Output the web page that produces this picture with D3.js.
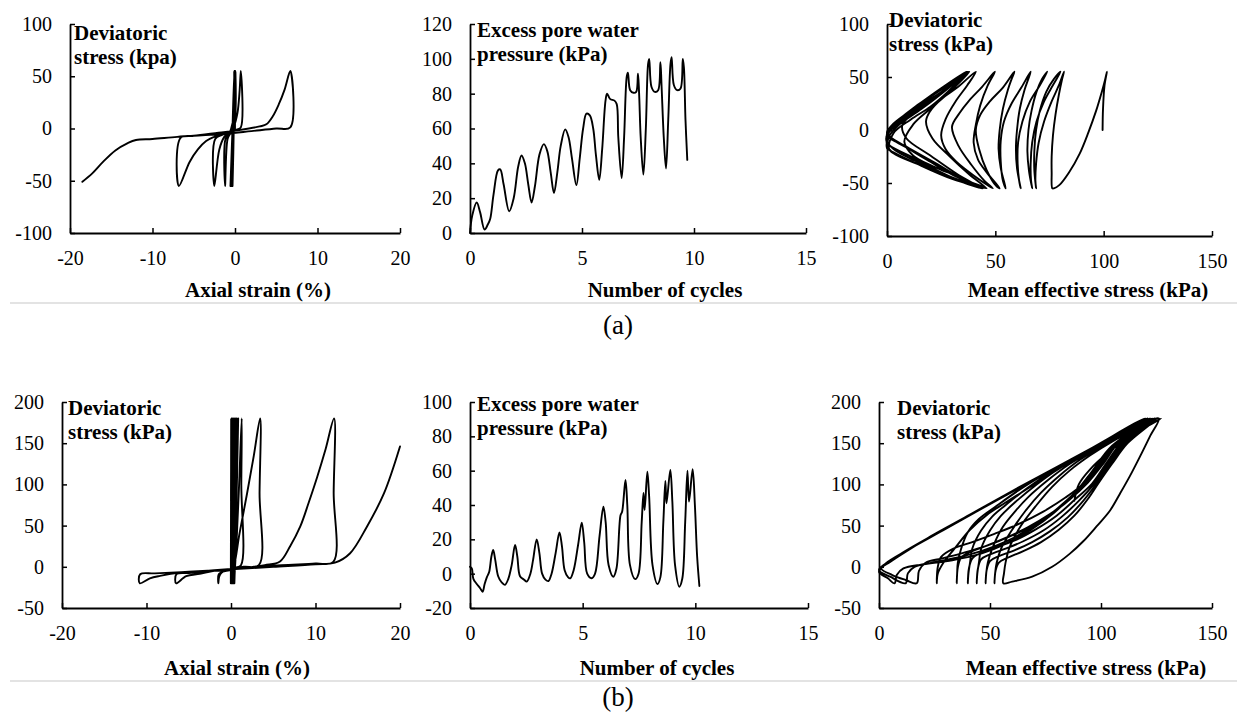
<!DOCTYPE html>
<html><head><meta charset="utf-8">
<script src="https://cdn.jsdelivr.net/npm/d3@7"></script>
<style>html,body{margin:0;padding:0;background:#fff;}svg{display:block;}</style>
</head><body>
<svg id="chart" width="1237" height="717"></svg>
<script>
// ---------------- DATA ----------------
// (a) panel 1: axial strain (%) vs deviatoric stress (kPa)
const strainStressA = [
[0,0],[-0.05,55],[-0.2,0],[-0.3,-55],[-0.15,0],[-0.1,55],[-0.3,0],[-0.45,-55],[-0.25,0],[-0.05,55],[-0.3,0],[-0.55,-55],[-0.3,0],[0.0,55],
[-0.3,0],[-0.6,-5],[-0.9,-10],[-1.2,-55],[-1.15,-10],[-0.7,-5],[-0.3,5],[-0.05,25],[0.05,55],
[-0.2,0],[-0.8,-4],[-1.3,-8],[-1.9,-20],[-2.5,-55],[-2.4,-10],[-1.5,-6],[-0.6,-3],[-0.1,3],[0.3,15],[0.55,35],[0.7,55],
[0.7,1],[0.2,-1],[-1.0,-4],[-2.5,-8],[-3.5,-12],[-4.5,-20],[-5.5,-32],[-6.8,-55],
[-6.6,-9],[-5.0,-7],[-2.0,-4],[0.5,-1.5],[3.0,2],[3.8,4],[4.6,12],[5.3,23],[6.0,37],[6.7,55],
[6.7,1],[5.0,0],[2.0,-2.5],[-1.0,-5],[-4.0,-6.5],[-7.0,-8],[-10.0,-10],[-12.0,-11],[-13.0,-14],[-14.5,-21],[-16.0,-32],[-17.3,-43],[-18.5,-51]
];
// (a) panel 2: number of cycles vs excess pore water pressure (kPa)
const cyclesPoreA = [
[0,0],[0.1,10],[0.3,17.5],[0.45,12],[0.65,2],[0.8,5],[0.9,8],[1.05,22],[1.25,36],[1.35,36.5],[1.5,28],[1.75,12.5],[1.95,20],[2.15,38],[2.3,44.5],[2.45,40],[2.6,28],[2.75,17.5],[2.9,27],[3.1,45],[3.3,51],[3.45,47],[3.6,35],[3.75,23],[3.9,35],[4.05,50],[4.25,59.5],[4.4,55],[4.55,43],[4.75,27.5],[4.9,43],[5.05,60],[5.2,68.5],[5.35,67.5],[5.5,60],[5.62,45],[5.77,30.5],[5.9,48],[6.05,76],[6.12,80],[6.25,77],[6.45,76],[6.55,74],[6.62,55],[6.77,31.5],[6.88,55],[7.0,90],[7.05,92],[7.15,82],[7.3,80.5],[7.42,81],[7.5,91.5],[7.55,80],[7.62,55],[7.74,33.5],[7.85,60],[7.95,97],[8.0,100],[8.1,84],[8.25,81],[8.4,82],[8.5,98],[8.55,85],[8.65,55],[8.75,37],[8.85,65],[8.95,97],[9.0,101],[9.1,85],[9.25,82],[9.4,83],[9.5,100],[9.55,95],[9.62,65],[9.7,42]
];
// (a) panel 3: mean effective stress (kPa) vs deviatoric stress (kPa)
const stressPathA = [
[99.5,0],[99.7,20],[100.4,42],[101.5,55],
[100.6,47],[99,35],[96.5,18],[93,-2],[89,-22],[84,-40],[79.5,-52],[77,-55],[76.3,-55],
[76,-40],[76,-25],[76.6,-5],[77.8,15],[79.3,33],[80.7,47],[81.7,55],
[79.3,42],[76,27],[72.5,8],[70,-12],[68.8,-32],[68.5,-48],[68.8,-55],
[68,-38],[68,-20],[68.8,0],[70.5,18],[73.5,36],[77,48],[80.1,55],
[76.5,42],[72.5,27],[69,8],[67,-12],[66.3,-32],[66.5,-48],[67,-55],
[65.5,-38],[64.8,-20],[65.3,0],[66.7,18],[69,36],[71.5,48],[74,55],
[70.5,42],[66,27],[62.5,8],[60.5,-12],[60.3,-32],[61,-48],[61.7,-55],
[60,-36],[59.5,-18],[60,0],[61.3,20],[63.5,38],[65.2,48],[66.3,55],
[62,40],[57.5,25],[54,8],[52.5,-10],[52.5,-30],[53.5,-48],[54.8,-55],
[52.5,-36],[51.5,-18],[52,0],[53.5,20],[55.8,38],[57.5,48],[58.8,55],
[53.5,40],[47.5,27],[43,14],[41,0],[42.5,-18],[46,-38],[50.5,-53],[52,-55],
[46,-40],[42,-28],[40,-12],[41,5],[43,23],[46.5,42],[49.8,55],
[44,41],[38,28],[33.5,16],[30,3],[33,-15],[39,-33],[45,-48],[48.8,-55],
[40,-43],[32,-30],[27,-18],[25,-5],[27,10],[32,28],[37,42],[41,55],
[33,41],[25,29],[20,18],[18,8],[21,-8],[29,-25],[38,-42],[45.7,-55],
[33,-44],[21,-34],[12,-24],[8,-11],[12,5],[20,20],[29,36],[38,55],
[28,40],[18,26],[11,14],[7,4],[9,-8],[20,-24],[32,-41],[43.4,-55],
[30,-45],[17,-34],[6,-25],[1,-18],[3,-3],[11,10],[20,22],[28,36],[37,55],
[25,38],[13,22],[5,9],[1,1],[1,-6],[12,-20],[26,-37],[36,-48],[44,-55],
[28,-44],[14,-32],[3,-22],[0,-14],[1,-2],[12,16],[25,35],[36.5,55],
[22,35],[10,17],[2,4],[0,-3],[8,-15],[20,-30],[32,-44],[45,-55],
[28,-43],[13,-29],[3,-18],[0,-10],[2,2],[14,20],[27,38],[37.5,55],
[22,34],[9,14],[1,1],[0,-5],[10,-17],[23,-32],[35,-46],[46,-55],
[30,-46],[14,-32],[3,-21],[0,-17],[1,-6],[5,4],[16,20],[28,39],[37,55],
[21,33],[8,12],[0.5,-2],[0,-12],[10,-24],[24,-39],[36,-50],[44,-55]
];
// (b) panel 4: axial strain (%) vs deviatoric stress (kPa)
const strainStressB = [
[0,80],[0.02,180],[0.0,60],[-0.02,-20],[0.05,60],[0.1,180],[0.07,60],[0.03,-20],[0.12,60],[0.2,180],[0.15,60],[0.08,-20],
[0.2,60],[0.3,180],[0.22,60],[0.12,-20],[0.28,60],[0.4,180],[0.3,60],[0.18,-20],[0.38,60],[0.5,180],[0.4,60],[0.25,-20],
[0.5,60],[0.65,180],[0.5,60],[0.3,-20],[0.6,60],[0.85,180],[0.6,60],[0.4,-20],
[0.45,-5],[0.7,40],[1.0,110],[1.27,180],[1.22,100],[1.18,2],[0.5,-1],[-0.5,-4],[-1.1,-7],[-1.4,-12],[-1.5,-20],
[-1.45,-9],[-1.0,-6],[0,-3.5],[0.3,0],[1.0,40],[1.9,89],[2.7,135],[3.45,180],
[3.38,90],[3.3,2],[1.5,0],[0,-3],[-2,-5],[-3.7,-8.5],[-5.3,-11.3],[-6.5,-20],
[-6.45,-9],[-5,-7.5],[-2,-5],[0,-3.5],[2,-1],[4,2],[5.8,6.5],[7,25],[8.2,49],[9.2,78],[10.2,109],[11.2,143],[12.2,180],
[12.15,90],[12.1,6],[10,4],[6,2],[2,-1],[0,-2.5],[-3,-5],[-6,-7],[-8.4,-11],[-9.6,-14],[-10.8,-20],
[-10.75,-9],[-9,-8],[-5,-6],[0,-3],[5,0],[10,3],[12.3,5],[14.1,16.5],[16.1,49],[18.1,89],[20,146]
];
// (b) panel 5: number of cycles vs excess pore water pressure (kPa)
const cyclesPoreB = [
[0,4],[0.08,3],[0.15,-3],[0.3,-6],[0.45,-8.5],[0.56,-10.5],[0.65,-6],[0.75,-2],[0.85,1],[0.95,10],[1.03,13.8],[1.12,8],[1.25,-1.5],[1.4,-5],[1.55,-6.5],[1.7,-3],[1.85,5],[2.0,16.7],[2.1,10],[2.22,-1.5],[2.4,-3.5],[2.52,-4.6],[2.68,0],[2.8,8],[2.96,20],[3.08,12],[3.2,0],[3.35,-3.5],[3.48,-4.3],[3.62,0],[3.8,12],[3.97,24],[4.08,16],[4.2,2],[4.35,-2],[4.45,-2.7],[4.6,2],[4.8,17],[4.96,29.7],[5.07,18],[5.2,0],[5.4,-2.7],[5.55,0],[5.75,22],[5.92,39],[6.02,30],[6.15,5],[6.36,-1.8],[6.5,3],[6.68,34],[6.75,36],[6.9,54.6],[6.98,40],[7.1,5],[7.33,-3.2],[7.48,0],[7.62,30],[7.7,47],[7.75,37],[7.87,59.4],[7.95,45],[8.1,5],[8.32,-6],[8.45,-2],[8.58,30],[8.67,54],[8.72,41],[8.89,60.4],[8.98,42],[9.1,5],[9.29,-7.6],[9.42,-3],[9.55,30],[9.65,60],[9.72,42],[9.88,60.8],[9.98,40],[10.08,10],[10.18,-7.2]
];
// (b) panel 6: mean effective stress (kPa) vs deviatoric stress (kPa)
const stressPathB = [
[88,80],[90,100],[95,118],[103,138],[114,160],[127,180],
[116,167],[105,152],[95,135],[86,117],[78,97],[71,75],[64,50],[59,25],[57,5],[56.3,-8],[56,-20],
[60,-18],[69,-12],[78,0],[86,16],[92,31],[98,49],[104,68],[108.6,89],[113,110],[117.6,134],[122,158],[126,180],
[113,164],[101,147],[90,129],[81,110],[73,90],[66,68],[60,45],[55,22],[53,5],[52.3,-8],[52,-20],
[52.5,-5],[54,5],[58,11],[65,19],[73,30],[81,45],[88,62],[94,82],[99,102],[105,125],[112,150],[125,180],
[111,162],[98,144],[86,125],[76,105],[67,84],[60,63],[55,45],[51,22],[49,5],[48.3,-8],[48,-20],
[48.5,-4],[50,7],[54,13],[61,20],[69,30],[77,43],[85,60],[92,80],[98,101],[104,124],[111,150],[124,180],
[109,160],[95,141],[82,121],[71,100],[62,80],[55,62],[50,44],[46,22],[45,5],[44.3,-8],[44,-20],
[44.5,-3],[46,9],[50,15],[57,22],[65,31],[74,44],[82,60],[90,80],[97,101],[103,124],[110,150],[123,180],
[107,158],[92,137],[78,116],[67,96],[58,77],[51,61],[46,44],[42,22],[41,5],[40.3,-8],[40,-20],
[40.5,-2],[42,10],[46,17],[53,24],[62,33],[71,46],[80,62],[88,81],[96,101],[102,124],[109,150],[122,180],
[105,156],[89,134],[75,113],[63,93],[53,74],[45,58],[40,42],[37,22],[35.5,5],[35.2,-8],[35,-20],
[35.5,-1],[37,11],[41,18],[48,25],[57,35],[67,48],[77,64],[86,82],[94,102],[101,125],[108,151],[122,180],
[104,155],[89,132],[77,112],[67,95],[57,78],[48.6,63],[41,45],[34,22],[29,5],[26.5,-8],[26,-20],
[26.5,0],[28,12],[33.5,22],[42,30],[52,40],[63,52],[74,67],[84,84],[93,103],[100,126],[108,152],[121,180],
[100,150],[80,121],[60,92],[42,65],[26,41],[13,20],[5,6],[1,-2],[6,-10],[12,-16],[17,-20],
[18,-5],[21,5],[28,10],[38,17],[49,26],[60,38],[71,53],[81,71],[90,92],[98,118],[107,148],[121,180],
[98,146],[75,113],[52,79],[30,46],[12,19],[3,4],[0,-4],[5,-12],[12,-20],
[13,-8],[16,0],[24,5],[35,11],[47,20],[59,33],[70,50],[80,70],[89,92],[97,118],[106,148],[120,180],
[95,143],[70,106],[45,69],[22,35],[6,9],[0,-6],[4,-14],[7,-20],
[8,-10],[11,-2],[20,3],[33,8],[46,16],[58,29],[69,46],[79,66],[88,89],[96,116],[105,147],[124,180]
];
// axis tick values
const strainTicks = [-20,-10,0,10,20];
const stressTicksA = [-100,-50,0,50,100];
const poreTicksA = [0,20,40,60,80,100,120];
const cycleTicks = [0,5,10,15];
const meanTicks = [0,50,100,150];
const stressTicksB = [-50,0,50,100,150,200];
const poreTicksB = [-20,0,20,40,60,80,100];

// ---------------- DRAWING ----------------
const FONT = "Liberation Serif";
const svg = d3.select("#chart");
svg.append("rect").attr("width",1237).attr("height",717).attr("fill","#fff");

const panels = [
 {data:strainStressA, xd:[-20,20], yd:[-100,100], xt:strainTicks, yt:stressTicksA, L:70, R:400, T:24, B:233,
  title:["Deviatoric","stress (kpa)"], tx:74, ty:40, xl:"Axial strain (%)", xlx:258, xly:297},
 {data:cyclesPoreA, xd:[0,15], yd:[0,120], xt:cycleTicks, yt:poreTicksA, L:470, R:806, T:24, B:233,
  title:["Excess pore water","pressure (kPa)"], tx:477, ty:37, xl:"Number of cycles", xlx:665, xly:297},
 {data:stressPathA, xd:[0,150], yd:[-100,100], xt:meanTicks, yt:stressTicksA, L:887, R:1212, T:24, B:236,
  title:["Deviatoric","stress (kPa)"], tx:889, ty:27, xl:"Mean effective stress (kPa)", xlx:1088, xly:297},
 {data:strainStressB, xd:[-20,20], yd:[-50,200], xt:strainTicks, yt:stressTicksB, L:62, R:400, T:402, B:608,
  title:["Deviatoric","stress (kPa)"], tx:68, ty:415, xl:"Axial strain (%)", xlx:237, xly:675},
 {data:cyclesPoreB, xd:[0,15], yd:[-20,100], xt:cycleTicks, yt:poreTicksB, L:470, R:808, T:402, B:608,
  title:["Excess pore water","pressure (kPa)"], tx:477, ty:411, xl:"Number of cycles", xlx:657, xly:675},
 {data:stressPathB, xd:[0,150], yd:[-50,200], xt:meanTicks, yt:stressTicksB, L:879, R:1212, T:402, B:608,
  title:["Deviatoric","stress (kPa)"], tx:897, ty:415, xl:"Mean effective stress (kPa)", xlx:1086, xly:675}
];

panels.forEach(p => {
  const x = d3.scaleLinear().domain(p.xd).range([p.L, p.R]);
  const y = d3.scaleLinear().domain(p.yd).range([p.B, p.T]);
  const g = svg.append("g");

  const line = d3.line().x(d => x(d[0])).y(d => y(d[1])).curve(d3.curveCatmullRom.alpha(0.5));
  g.append("path").datum(p.data).attr("d", line)
    .attr("fill","none").attr("stroke","#000").attr("stroke-width",1.9)
    .attr("stroke-linejoin","round").attr("stroke-linecap","round");

  const ax = g.append("g").attr("transform", `translate(0,${p.B})`)
    .call(d3.axisBottom(x).tickValues(p.xt).tickSizeInner(-5).tickSizeOuter(0).tickPadding(18).tickFormat(d => String(d)));
  const ay = g.append("g").attr("transform", `translate(${p.L},0)`)
    .call(d3.axisLeft(y).tickValues(p.yt).tickSizeInner(-5).tickSizeOuter(0).tickPadding(18).tickFormat(d => String(d)));
  [ax, ay].forEach(a => {
    a.attr("font-family", FONT).attr("font-size", 20);
    a.select(".domain").attr("stroke","#000").attr("stroke-width",1.8);
    a.selectAll(".tick line").attr("stroke","#000").attr("stroke-width",1.5);
    a.selectAll("text").attr("font-family",FONT).attr("font-size",20).attr("fill","#000");
  });

  const t = g.append("text").attr("font-family",FONT).attr("font-size",21).attr("font-weight","bold").attr("fill","#000");
  p.title.forEach((s,i) => t.append("tspan").attr("x",p.tx).attr("y",p.ty + i*24).text(s));

  g.append("text").attr("x",p.xlx).attr("y",p.xly).attr("text-anchor","middle")
    .attr("font-family",FONT).attr("font-size",21).attr("font-weight","bold").attr("fill","#000").text(p.xl);
});

// separators and sub-captions
[303, 681].forEach(yy => svg.append("line").attr("x1",10).attr("x2",1237).attr("y1",yy).attr("y2",yy)
  .attr("stroke","#c8c8c8").attr("stroke-width",1.2));
svg.append("text").attr("x",618).attr("y",334).attr("text-anchor","middle").attr("font-family",FONT).attr("font-size",27).attr("fill","#000").text("(a)");
svg.append("text").attr("x",618).attr("y",706).attr("text-anchor","middle").attr("font-family",FONT).attr("font-size",27).attr("fill","#000").text("(b)");
</script>
</body></html>
